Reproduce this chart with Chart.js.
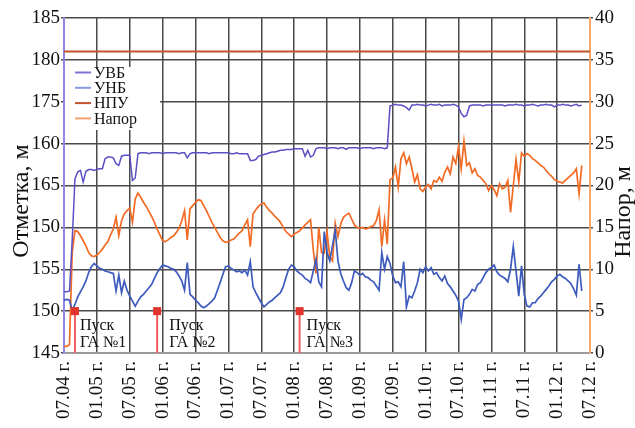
<!DOCTYPE html>
<html>
<head>
<meta charset="utf-8">
<script src="https://cdn.jsdelivr.net/npm/chart.js@4.4.1/dist/chart.umd.min.js"></script>
<style>
  html, body { margin: 0; padding: 0; background: #fff; }
  #wrap { width: 635px; height: 428px; position: relative; }
</style>
</head>
<body>
<div id="wrap"><canvas id="chart"></canvas></div>
<script>
// half-month samples, starting 07.2004 (x is in months from 07.2004)
const STEP = 0.5;
const xTickLabels = ['07.04 г.','01.05 г.','07.05 г.','01.06 г.','07.06 г.','01.07 г.','07.07 г.','01.08 г.','07.08 г.',
  '01.09 г.','07.09 г.','01.10 г.','07.10 г.','01.11 г.','07.11 г.','01.12 г.','07.12 г.'];
// left axis labels, bottom to top, as printed on the original
const leftTickLabels = ['145','150','155','150','165','160','175','180','185'];

const uvb = [
  152.3,152.3,152.4,158.5,165.8,166.6,166.8,165.4,166.7,166.9,
  166.9,166.8,166.9,167.0,167.0,168.2,168.4,168.4,168.3,167.6,
  167.4,168.5,168.6,168.6,168.6,165.6,165.9,168.8,168.9,168.9,
  168.9,168.8,168.9,168.9,168.9,168.9,168.8,168.9,168.9,168.9,
  168.9,168.9,168.8,168.9,168.9,168.3,168.8,168.9,168.9,168.9,
  168.9,168.9,168.9,168.8,168.9,168.9,168.9,168.9,168.9,168.9,
  168.9,168.8,168.8,168.9,168.8,168.8,168.8,168.8,168.0,168.0,
  168.1,168.5,168.6,168.7,168.8,168.9,169.0,169.0,169.1,169.2,
  169.2,169.3,169.3,169.3,169.4,169.4,169.4,169.4,168.5,169.2,
  168.4,168.6,169.4,169.5,169.5,169.5,169.4,169.5,169.5,169.5,
  169.4,169.5,169.5,169.3,169.5,169.5,169.5,169.5,169.4,169.5,
  169.5,169.5,169.5,169.4,169.5,169.5,169.5,169.4,169.5,174.5,
  174.6,174.7,174.6,174.6,174.5,174.3,174.0,174.6,174.6,174.7,
  174.6,174.6,174.5,174.6,174.7,174.6,174.6,174.7,174.5,174.6,
  174.6,174.6,174.7,174.6,174.4,173.6,173.2,173.4,174.5,174.6,
  174.6,174.6,174.6,174.5,174.6,174.6,174.6,174.6,174.6,174.6,
  174.6,174.5,174.6,174.6,174.6,174.7,174.6,174.6,174.5,174.6,
  174.6,174.7,174.6,174.5,174.6,174.6,174.7,174.6,174.6,174.4,
  174.6,174.6,174.7,174.6,174.6,174.5,174.6,174.7,174.5,174.6
];
const unb = [
  151.3,151.4,151.3,150.1,150.8,151.7,152.3,152.9,153.6,154.6,
  155.3,155.7,155.4,155.1,155.0,154.8,154.7,154.6,154.5,152.4,
  154.3,152.2,153.6,152.5,151.8,151.2,150.6,151.2,151.7,152.0,
  152.4,152.8,153.2,153.9,154.6,155.1,155.5,155.4,155.3,155.1,
  155.0,154.7,154.2,153.6,152.5,155.8,152.0,151.7,151.3,151.0,
  150.6,150.4,150.6,150.9,151.2,151.6,152.5,153.4,154.4,155.3,
  155.4,155.1,154.9,154.7,154.8,154.6,154.9,154.3,155.9,152.9,
  152.2,151.6,151.0,150.5,150.8,151.1,151.3,151.6,151.9,152.2,
  152.9,154.0,155.0,155.5,155.3,154.8,154.5,154.3,153.9,153.7,
  153.4,154.8,156.2,153.5,152.9,159.5,157.0,156.0,157.8,159.7,
  156.0,154.5,153.6,152.8,152.5,153.4,154.8,154.6,154.3,154.5,
  154.1,154.0,153.7,153.5,153.0,152.5,157.0,155.0,156.5,155.7,
  154.2,153.4,153.5,152.9,155.9,150.5,151.8,151.6,152.4,153.4,
  155.0,154.6,155.3,154.8,155.2,154.4,154.6,154.0,153.6,154.2,
  153.3,152.9,152.4,151.9,151.2,149.0,151.4,151.6,152.0,152.6,
  152.4,153.2,153.4,154.0,154.6,155.0,155.2,155.5,154.7,154.3,
  154.1,153.9,153.5,155.0,157.7,154.8,151.8,155.4,152.0,150.6,
  150.5,151.0,151.0,151.5,151.8,152.2,152.6,153.0,153.5,153.8,
  154.2,154.4,154.1,153.9,153.6,153.3,152.7,151.9,155.6,152.4
];
const npu = 181;
const head = [
  0.8,0.8,1.0,12.0,14.6,14.5,14.0,13.4,12.8,12.0,
  11.6,11.5,11.7,12.0,12.4,12.9,13.3,14.1,14.8,16.2,
  14.0,15.8,16.6,17.0,17.3,15.6,18.4,19.1,18.6,18.0,
  17.5,16.9,16.3,15.6,14.8,14.1,13.4,13.3,13.5,13.8,
  14.0,14.4,14.9,15.8,17.0,13.5,17.2,17.6,18.0,18.3,
  18.2,17.6,17.0,16.3,15.6,15.0,14.4,13.8,13.4,13.2,
  13.3,13.5,13.6,14.0,14.3,14.6,15.3,15.9,12.7,16.6,
  17.1,17.5,17.8,17.9,17.4,17.0,16.7,16.3,16.0,15.6,
  15.0,14.5,14.2,13.9,14.2,14.4,14.6,14.9,15.3,15.6,
  15.9,12.3,9.5,15.0,12.0,11.9,14.5,11.5,11.0,15.5,
  13.9,15.4,16.2,16.5,16.7,16.0,15.3,15.0,14.9,15.0,
  14.8,14.9,15.1,15.2,15.8,17.1,12.7,15.9,13.0,20.7,
  20.9,22.2,19.8,23.2,23.9,22.6,23.4,22.0,20.4,21.3,
  19.6,19.3,19.8,20.1,19.6,20.6,20.4,21.0,20.5,21.6,
  22.2,21.4,23.4,22.6,24.6,22.0,25.3,22.4,22.7,21.5,
  22.0,21.2,21.0,20.6,20.2,19.4,20.0,19.5,18.8,20.2,
  19.6,19.8,20.6,16.8,20.0,23.1,20.4,23.9,23.5,23.8,
  23.6,23.2,23.0,22.7,22.4,22.2,21.8,21.4,21.1,20.7,
  20.5,20.4,20.3,20.6,20.9,21.2,21.5,22.0,19.0,22.4
];

// unit launches: month from 07.2004, label
const launchMonths = [2, 17, 43];
const launchNames = ['ГА №1', 'ГА №2', 'ГА №3'];
const launchHead = 5;

const SERIF = "'Liberation Serif', 'Times New Roman', serif";
const toXY = arr => arr.map((v, i) => ({x: i * STEP, y: v}));
const legendColors = ['#7d72d6', '#8798e4', '#c4532b', '#f7a070'];
const launchTextDx = [5, 12, 7];

const legendBox = {
  id: 'legendBox',
  beforeDatasetsDraw(chart) {
    const {ctx, chartArea: a} = chart;
    ctx.save();
    ctx.fillStyle = '#fff';
    ctx.fillRect(a.left + 1, a.top + 49, 95, 63);
    ctx.font = '16px ' + SERIF;
    ctx.textBaseline = 'middle';
    chart.data.datasets.forEach((ds, k) => {
      const y = a.top + 54.5 + k * 15.3;
      ctx.strokeStyle = legendColors[k];
      ctx.lineWidth = 2;
      ctx.beginPath(); ctx.moveTo(a.left + 11, y); ctx.lineTo(a.left + 27, y); ctx.stroke();
      ctx.fillStyle = '#111';
      ctx.fillText(ds.label, a.left + 30, y + 1);
    });
    ctx.restore();
  }
};

const launches = {
  id: 'launches',
  afterDatasetsDraw(chart) {
    const {ctx} = chart;
    const xs = chart.scales.x, yr = chart.scales.y1;
    ctx.save();
    launchMonths.forEach((m, k) => {
      const x = xs.getPixelForValue(m);
      const top = yr.getPixelForValue(launchHead);
      const bot = yr.getPixelForValue(0);
      ctx.strokeStyle = '#f25c5c';
      ctx.lineWidth = 2;
      ctx.beginPath(); ctx.moveTo(x, top); ctx.lineTo(x, bot); ctx.stroke();
      ctx.fillStyle = '#e0342c';
      ctx.fillRect(x - 4, top - 4, 8, 8);
      ctx.fillStyle = '#111';
      ctx.font = '16px ' + SERIF;
      ctx.textBaseline = 'alphabetic';
      ctx.fillText('Пуск', x + launchTextDx[k], top + 19);
      ctx.fillText(launchNames[k], x + launchTextDx[k], top + 36);
    });
    ctx.restore();
  }
};

const axisTitles = {
  id: 'axisTitles',
  afterDraw(chart) {
    const {ctx} = chart;
    ctx.save();
    ctx.fillStyle = '#111';
    ctx.font = '24px ' + SERIF;
    ctx.textAlign = 'center';
    ctx.textBaseline = 'alphabetic';
    ctx.translate(28, 201); ctx.rotate(-Math.PI / 2);
    ctx.fillText('Отметка, м', 0, 0);
    ctx.restore();
    ctx.save();
    ctx.fillStyle = '#111';
    ctx.font = '24px ' + SERIF;
    ctx.textAlign = 'center';
    ctx.textBaseline = 'alphabetic';
    ctx.translate(630, 212); ctx.rotate(-Math.PI / 2);
    ctx.fillText('Напор, м', 0, 0);
    ctx.restore();
  }
};

new Chart(document.getElementById('chart'), {
  type: 'line',
  data: {
    datasets: [
      {label: 'УВБ', data: toXY(uvb), yAxisID: 'y', borderColor: '#5a4fc4', borderWidth: 1.5},
      {label: 'УНБ', data: toXY(unb), yAxisID: 'y', borderColor: '#3d5abd', borderWidth: 1.7},
      {label: 'НПУ', data: [{x: 0, y: npu}, {x: 96, y: npu}], yAxisID: 'y', borderColor: '#c4532b', borderWidth: 2},
      {label: 'Напор', data: toXY(head), yAxisID: 'y1', borderColor: '#f26b24', borderWidth: 1.7}
    ]
  },
  options: {
    responsive: true,
    maintainAspectRatio: false,
    animation: false,
    devicePixelRatio: 1,
    layout: {padding: {top: 18, left: 0, right: 0, bottom: 0}},
    elements: {point: {radius: 0}, line: {tension: 0}},
    plugins: {legend: {display: false}, tooltip: {enabled: false}},
    scales: {
      x: {
        type: 'linear', min: 0, max: 96,
        afterFit: s => { s.height = 75; },
        grid: {color: '#4a4a4a', lineWidth: 1.5, drawTicks: false},
        border: {color: '#999', width: 1.5},
        ticks: {
          stepSize: 6, autoSkip: false, minRotation: 90, maxRotation: 90, padding: 8,
          color: '#111', font: {family: SERIF, size: 19},
          callback: v => xTickLabels[v / 6]
        }
      },
      y: {
        type: 'linear', position: 'left', min: 145, max: 185,
        afterFit: s => { s.width = 64; },
        grid: {color: '#4a4a4a', lineWidth: 1.5, tickLength: 3},
        border: {color: '#8c86e6', width: 2},
        ticks: {
          stepSize: 5, padding: 1, color: '#111', font: {family: SERIF, size: 19},
          callback: v => leftTickLabels[(v - 145) / 5]
        }
      },
      y1: {
        type: 'linear', position: 'right', min: 0, max: 40,
        afterFit: s => { s.width = 45; },
        grid: {drawOnChartArea: false, color: '#4a4a4a', lineWidth: 1.5, tickLength: 3},
        border: {color: '#f8a66c', width: 2},
        ticks: {stepSize: 5, padding: 2, color: '#111', font: {family: SERIF, size: 19}}
      }
    }
  },
  plugins: [legendBox, launches, axisTitles]
});
</script>
</body>
</html>
